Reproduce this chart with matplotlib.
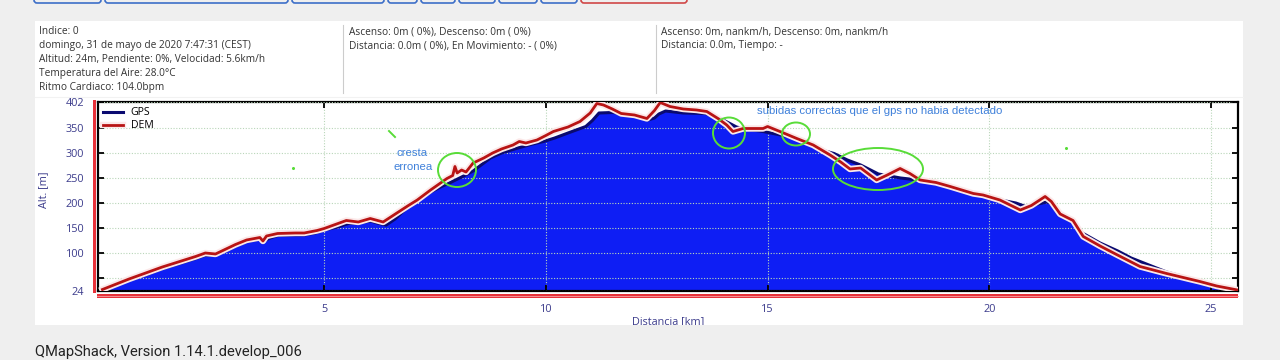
import matplotlib
matplotlib.use('Agg')
import matplotlib.pyplot as plt
from matplotlib.patches import Rectangle, Ellipse, FancyBboxPatch
import matplotlib.patheffects as pe

# ---------------- data ----------------
gps_dist = [0.0, 0.3, 0.6, 1.0, 1.35, 1.7, 2.1, 2.3, 2.55, 2.8, 3.0, 3.25, 3.55, 3.63, 3.75,
            3.95, 4.3, 4.55, 4.8, 5.0, 5.3, 5.55, 5.75, 6.05, 6.2, 6.4, 6.6, 6.86, 7.1, 7.4,
            7.65, 7.85, 8.1, 8.36, 8.6, 8.75, 9.0, 9.37, 9.7, 9.95, 10.2, 10.5, 10.9, 11.05,
            11.2, 11.5, 11.65, 12.0, 12.3, 12.45, 12.55, 12.7, 13.1, 13.6, 13.8, 14.0, 14.3,
            14.5, 14.9, 15.3, 15.7, 15.9, 16.1, 16.5, 16.8, 17.1, 17.5, 18.0, 18.4, 18.7, 19.1,
            19.6, 19.9, 20.2, 20.6, 20.85, 21.0, 21.3, 21.45, 21.6, 21.9, 22.1, 22.5, 22.9,
            23.2, 23.6, 24.0, 24.5, 25.0, 25.3, 25.6]
gps_alt = [26, 36, 46, 57, 69, 78, 89, 95, 96, 105, 114, 123, 128, 123, 129,
           135, 136, 136, 140, 146, 152, 159, 160, 164, 160, 156, 168, 190, 205, 222,
           233, 241, 252, 264, 280, 290, 300, 310, 318, 323, 330, 340, 353, 365,
           380, 381, 380, 376, 366, 370, 378, 384, 380, 379, 374, 366, 352,
           348, 343, 336, 329, 323, 309, 299, 286, 276, 258, 250, 246, 240, 233,
           220, 215, 207, 200, 192, 196, 202, 198, 180, 166, 140, 120, 104,
           90, 76, 62, 50, 38, 32, 26]

dem_dist = [0.0, 0.6, 1.35, 2.1, 2.32, 2.55, 3.0, 3.25, 3.55, 3.62, 3.7, 3.95, 4.35, 4.55,
            4.84, 5.0, 5.5, 5.77, 6.04, 6.33, 6.64, 6.9, 7.1, 7.4, 7.77, 7.9, 7.95, 8.0, 8.1,
            8.2, 8.36, 8.6, 8.8, 9.0, 9.26, 9.4, 9.55, 9.8, 10.0, 10.17, 10.5, 10.77, 11.0,
            11.15, 11.3, 11.5, 11.7, 12.0, 12.28, 12.45, 12.58, 12.8, 13.1, 13.4, 13.63, 13.9,
            14.08, 14.22, 14.45, 14.9, 15.0, 15.28, 15.66, 16.03, 16.41, 16.65, 16.86, 17.1,
            17.46, 17.7, 17.99, 18.21, 18.44, 18.8, 19.12, 19.64, 19.86, 20.24, 20.7, 20.95,
            21.26, 21.4, 21.6, 21.89, 22.12, 22.5, 22.87, 23.4, 24.0, 24.75, 25.13, 25.6]
dem_alt = [27, 48, 72, 93, 100, 98, 117, 126, 131, 124, 134, 139, 140, 140,
           145, 149, 165, 162, 169, 162, 180, 195, 206, 226, 249, 255, 273, 260, 266,
           262, 280, 290, 300, 308, 316, 323, 320, 326, 335, 343, 352, 363, 380,
           399, 396, 388, 379, 376, 369, 385, 401, 393, 388, 386, 383, 368,
           356, 343, 349, 349, 353, 343, 329, 316, 296, 282, 268, 270,
           246, 256, 269, 259, 246, 241, 233, 219, 216, 206, 186, 195,
           213, 203, 178, 165, 133, 114, 97, 73, 59, 43, 34, 26]

x_ticks = [5, 10, 15, 20, 25]
y_ticks = [24, 50, 100, 150, 200, 250, 300, 350, 402]
y_tick_labels = ['24', '', '100', '150', '200', '250', '300', '350', '402']

info_col1 = ["Indice: 0",
             "domingo, 31 de mayo de 2020 7:47:31 (CEST)",
             "Altitud: 24m, Pendiente: 0%, Velocidad: 5.6km/h",
             "Temperatura del Aire: 28.0°C",
             "Ritmo Cardiaco: 104.0bpm"]
info_col2 = ["Ascenso: 0m ( 0%), Descenso: 0m ( 0%)",
             "Distancia: 0.0m ( 0%), En Movimiento: - ( 0%)"]
info_col3 = ["Ascenso: 0m, nankm/h, Descenso: 0m, nankm/h",
             "Distancia: 0.0m, Tiempo: -"]

# ---------------- figure ----------------
W, H = 1280, 360
fig = plt.figure(figsize=(12.8, 3.6), dpi=100, facecolor='#efefef')

bg = fig.add_axes([0, 0, 1, 1], zorder=0)
bg.set_xlim(0, W); bg.set_ylim(H, 0); bg.axis('off')
bg.add_patch(Rectangle((35, 21), 1208, 304, facecolor='white', edgecolor='none'))

# partial buttons at the top
buttons = [(34, 101, '#3d6fc8'), (105, 288, '#3d6fc8'), (292, 384, '#3d6fc8'),
           (388, 417, '#3d6fc8'), (421, 455, '#3d6fc8'), (459, 495, '#3d6fc8'),
           (499, 537, '#3d6fc8'), (541, 577, '#3d6fc8'), (581, 687, '#d04848')]
for x0, x1, c in buttons:
    bg.add_patch(FancyBboxPatch((x0, -20), x1 - x0, 23,
                                boxstyle='round,pad=0,rounding_size=3',
                                facecolor='none', edgecolor=c, lw=1.2))

info_font = dict(family='Open Sans', fontsize=7.3, color='#333333', va='center')
for i, t in enumerate(info_col1):
    bg.text(39, 32 + i * 13.8, t, **info_font)
for i, t in enumerate(info_col2):
    bg.text(349, 32 + i * 13.8, t, **info_font)
for i, t in enumerate(info_col3):
    bg.text(661, 32 + i * 13.8, t, **info_font)
bg.plot([343, 343], [25, 93], color='#cccccc', lw=0.8)
bg.plot([656, 656], [25, 93], color='#cccccc', lw=0.8)
bg.plot([35, 1243], [97, 97], color='#f2f2f2', lw=0.8)

# range markers (red)
bg.add_patch(Rectangle((93, 100), 3, 193, facecolor='#e8323a', edgecolor='none'))
bg.add_patch(Rectangle((97, 293.5), 1141, 4, facecolor='#e8323a', edgecolor='none'))
bg.plot([97, 1238], [295.5, 295.5], color='#f7a0a4', lw=0.6)

bg.text(44, 190, 'Alt. [m]', rotation=90, ha='center', va='center',
        fontsize=7.8, color='#3c3c8c', family='Open Sans')
bg.text(668, 316, 'Distancia [km]', ha='center', va='top',
        fontsize=7.8, color='#3c3c8c', family='Open Sans')

# ---------------- main axes ----------------
ax = fig.add_axes([98 / W, 1 - 291 / H, (1238 - 98) / W, (291 - 102) / H], zorder=1)
ax.set_facecolor('white')
ax.fill_between(gps_dist, gps_alt, 24, color='#0e1ef4', lw=0, zorder=1)
gps_line, = ax.plot(gps_dist, gps_alt, color='#0a0a70', lw=2.2, zorder=3, label='GPS')
dem_line, = ax.plot(dem_dist, dem_alt, color='#b81414', lw=2.0, zorder=4, label='DEM',
                    path_effects=[pe.Stroke(linewidth=4.6, foreground='#fbe8e8'), pe.Normal()])
ax.set_xlim(-0.1, 25.61)
ax.set_ylim(24, 402)
ax.set_xticks(x_ticks)
ax.set_yticks(y_ticks)
ax.set_yticklabels(y_tick_labels)
ax.tick_params(direction='in', length=4, width=1.3, top=True, right=True,
               labelsize=7.8, labelcolor='#3c3c8c', color='black')
ax.tick_params(axis='y', pad=10)
ax.tick_params(axis='x', pad=9)
for lab in ax.get_xticklabels() + ax.get_yticklabels():
    lab.set_family('Open Sans')
ax.set_axisbelow(False)
ax.grid(True, color='#b9d6b9', linestyle=(0, (1, 1.5)), lw=0.8)
for s in ax.spines.values():
    s.set_linewidth(1.6)
    s.set_color('black')
leg = ax.legend(handles=[gps_line, dem_line], loc='upper left', frameon=False,
                handlelength=1.9, handletextpad=0.7, labelspacing=0.2,
                borderaxespad=0.2, borderpad=0.3, prop={'family': 'Open Sans', 'size': 7.6})

# ---------------- foreground annotations ----------------
fg = fig.add_axes([0, 0, 1, 1], zorder=5)
fg.set_xlim(0, W); fg.set_ylim(H, 0); fg.axis('off')
fg.patch.set_alpha(0)
green = '#58dc38'
for cx, cy, w, h in [(457, 170, 38, 34), (729, 133, 32, 31), (796, 134, 28, 23), (878, 169, 90, 42)]:
    fg.add_patch(Ellipse((cx, cy), w, h, facecolor='none', edgecolor=green, lw=1.4))
fg.plot([389, 395], [131, 137], color=green, lw=1.4)
fg.plot([293], [168], marker='o', ms=1.2, color=green)
fg.plot([1066], [148], marker='o', ms=1.2, color=green)
ann = dict(color='#3f80da', family='Liberation Sans', fontsize=8.2)
fg.text(412, 153, 'cresta', ha='center', va='center', **ann)
fg.text(413, 167, 'erronea', ha='center', va='center', **ann)
fg.text(757, 111, 'subidas correctas que el gps no habia detectado', ha='left', va='center', **ann)

# clip x-label at panel bottom
fg.add_patch(Rectangle((0, 325), W, 35, facecolor='#efefef', edgecolor='none'))
fg.text(35, 352, 'QMapShack, Version 1.14.1.develop_006', ha='left', va='center',
        fontsize=10.6, color='#222222', family='Roboto')

fig.savefig('out.png', dpi=100, facecolor=fig.get_facecolor())
